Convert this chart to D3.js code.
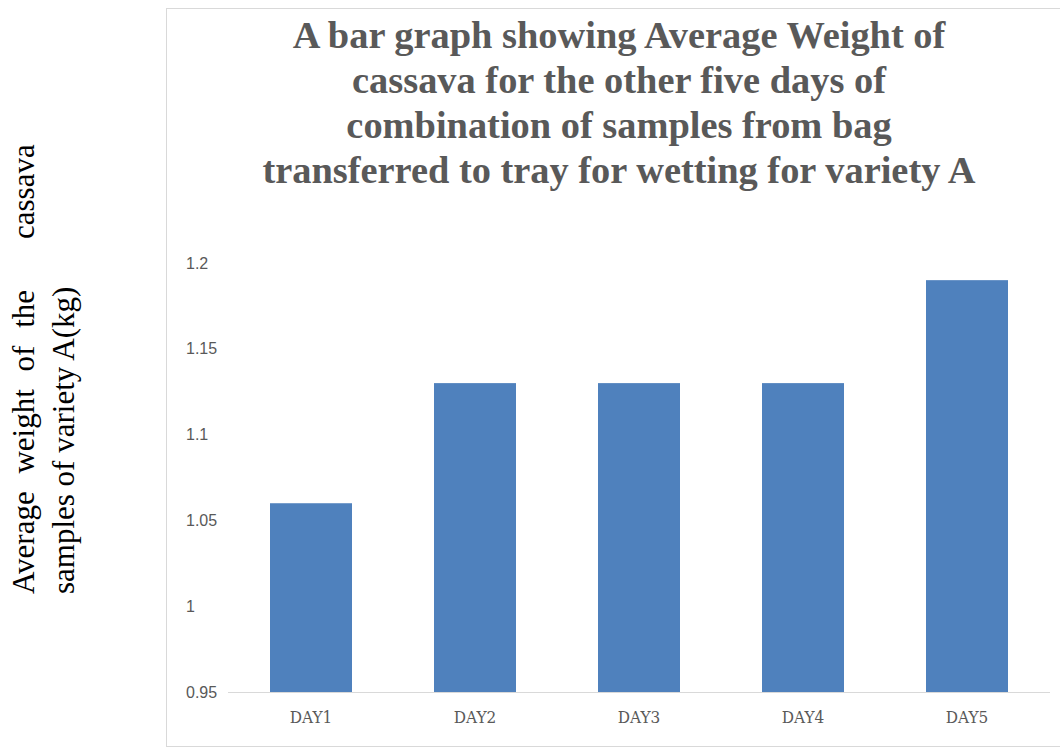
<!DOCTYPE html>
<html>
<head>
<meta charset="utf-8">
<script src="https://cdn.jsdelivr.net/npm/d3@7/dist/d3.min.js"></script>
<style>
  body { margin: 0; background: #fff; }
  svg { display: block; }
</style>
</head>
<body>
<script>
var days = ["DAY1", "DAY2", "DAY3", "DAY4", "DAY5"];
var weights = [1.06, 1.13, 1.13, 1.13, 1.19];
var yTicks = [0.95, 1, 1.05, 1.1, 1.15, 1.2];
var titleLines = [
  "A bar graph showing Average Weight of",
  "cassava for the other five days of",
  "combination of samples from bag",
  "transferred to tray for wetting for variety A"
];

var W = 1060, H = 749;

var svg = d3.select("body").append("svg")
  .attr("width", W)
  .attr("height", H);

// chart frame
svg.append("rect")
  .attr("x", 166.5).attr("y", 8.5)
  .attr("width", 1000).attr("height", 738)
  .attr("fill", "none")
  .attr("stroke", "#d9d9d9");

var x = d3.scaleBand()
  .domain(days)
  .range([229, 1049])
  .paddingInner(0.5)
  .paddingOuter(0.25);

var y = d3.scaleLinear()
  .domain([0.95, 1.2])
  .range([692, 263]);

//bars
svg.selectAll(".bar")
  .data(days)
  .enter().append("rect")
  .attr("class", "bar")
  .attr("x", function(d) { return x(d); })
  .attr("width", x.bandwidth())
  .attr("y", function(d, i) { return y(weights[i]); })
  .attr("height", function(d, i) { return y(0.95) - y(weights[i]); })
  .attr("fill", "#4f81bd");

//x axis
var xAxis = svg.append("g")
  .attr("transform", "translate(0,692)")
  .call(d3.axisBottom(x).tickSize(0).tickPadding(19));
xAxis.select(".domain").attr("stroke", "#d9d9d9").attr("d", "M228,0.5H1050");
xAxis.selectAll("text")
  .attr("fill", "#595959")
  .style("font-family", "'DejaVu Serif Condensed', 'DejaVu Serif', serif")
  .style("font-stretch", "condensed")
  .style("font-size", "17px");

//y axis labels
svg.append("g").selectAll("text")
  .data(yTicks)
  .enter().append("text")
  .attr("x", 186)
  .attr("y", function(d) { return y(d); })
  .attr("dy", "0.35em")
  .attr("fill", "#595959")
  .style("font-family", "'Liberation Sans', sans-serif")
  .style("font-size", "16px")
  .text(function(d) { return d; });

//title
svg.append("g").selectAll("text")
  .data(titleLines)
  .enter().append("text")
  .attr("x", 619)
  .attr("y", function(d, i) { return 48 + i * 45; })
  .attr("text-anchor", "middle")
  .attr("fill", "#595959")
  .style("font-family", "'Liberation Serif', serif")
  .style("font-weight", "bold")
  .style("font-size", "38.4px")
  .text(function(d) { return d; });

//y axis title
var yt = svg.append("g")
  .style("font-family", "'Liberation Serif', 'Times New Roman', serif")
  .style("font-size", "31px")
  .attr("fill", "#000");
yt.append("text")
  .attr("transform", "translate(34,594) rotate(-90)")
  .attr("word-spacing", "10px")
  .text("Average weight of the");
yt.append("text")
  .attr("transform", "translate(34,239) rotate(-90)")
  .text("cassava");
yt.append("text")
  .attr("transform", "translate(74,594) rotate(-90)")
  .text("samples of variety A(kg)");
</script>
</body>
</html>
